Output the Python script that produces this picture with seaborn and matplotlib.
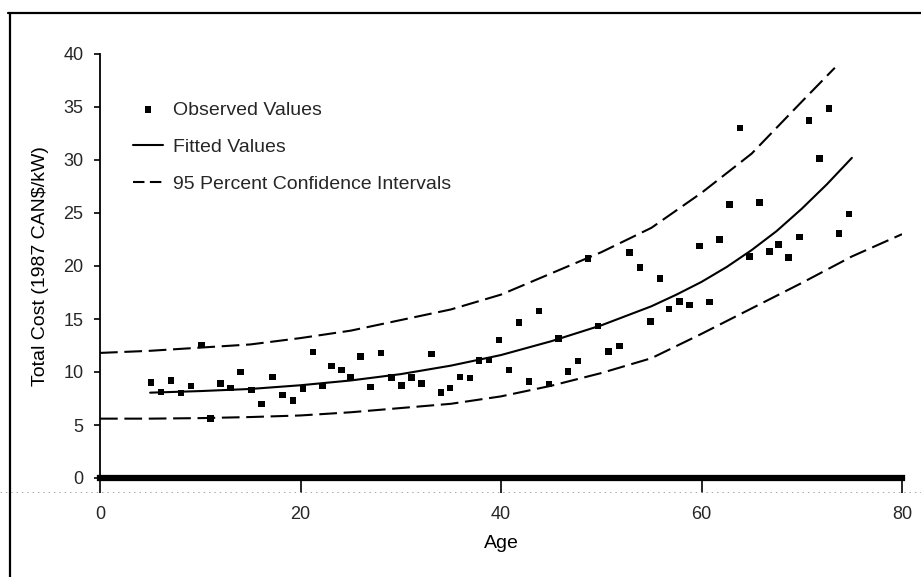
import matplotlib
matplotlib.use("Agg")
import matplotlib.pyplot as plt
from matplotlib.lines import Line2D
import seaborn as sns
import pandas as pd

# Observed total cost per plant age
obs_age = [5.1, 6.1, 7.1, 8.1, 9.1, 10.1, 11.0, 12.0, 13.0, 14.0,
           15.1, 16.1, 17.2, 18.2, 19.25, 20.25, 21.25, 22.2, 23.1, 24.1,
           25.0, 26.0, 27.0, 28.05, 29.1, 30.05, 31.05, 32.05, 33.05, 34.0,
           34.9, 35.9, 36.9, 37.8, 38.8, 39.8, 40.8, 41.8, 42.8, 43.8,
           44.8, 45.75, 46.7, 47.7, 48.7, 49.7, 50.7, 51.8, 52.8, 53.85,
           54.9, 55.85, 56.75, 57.8, 58.8, 59.8, 60.8, 61.8, 62.8, 63.85,
           64.8, 65.8, 66.8, 67.7, 68.7, 69.75, 70.7, 71.75, 72.7, 73.7,
           74.7]
obs_cost = [9.0, 8.1, 9.2, 8.0, 8.7, 12.55, 5.6, 8.9, 8.5, 10.0,
            8.3, 7.0, 9.55, 7.85, 7.3, 8.45, 11.9, 8.7, 10.55, 10.2,
            9.5, 11.45, 8.6, 11.8, 9.5, 8.75, 9.5, 8.9, 11.7, 8.05,
            8.5, 9.55, 9.45, 11.1, 11.15, 13.0, 10.2, 14.65, 9.1, 15.75,
            8.85, 13.15, 10.05, 11.05, 20.7, 14.35, 11.95, 12.45, 21.25, 19.85,
            14.75, 18.8, 15.95, 16.65, 16.3, 21.9, 16.6, 22.5, 25.8, 33.0,
            20.9, 26.0, 21.35, 22.05, 20.8, 22.75, 33.75, 30.15, 34.85, 23.05,
            24.9]

# Fitted values
fit_age = [5, 10, 15, 20, 25, 30, 35, 40, 45, 50, 55, 57.5, 60, 62.5,
           65, 67.5, 70, 72.5, 75]
fit_cost = [8.05, 8.2, 8.4, 8.75, 9.2, 9.8, 10.6, 11.6, 12.9, 14.4,
            16.2, 17.3, 18.5, 19.9, 21.5, 23.3, 25.4, 27.7, 30.2]

# 95 percent confidence bounds
upper_age = [0, 5, 10, 15, 20, 25, 30, 35, 40, 45, 50, 55, 60, 65, 70, 73.3]
upper_cost = [11.8, 12.0, 12.3, 12.6, 13.2, 13.9, 14.9, 15.9, 17.3, 19.3,
              21.3, 23.6, 26.9, 30.6, 35.5, 38.7]
lower_age = [0, 5, 10, 15, 20, 25, 30, 35, 40, 45, 50, 55, 60, 65, 70, 75, 80]
lower_cost = [5.6, 5.6, 5.65, 5.75, 5.9, 6.2, 6.6, 7.0, 7.7, 8.7,
              9.9, 11.3, 13.6, 16.0, 18.4, 20.9, 23.0]

x_ticks = [0, 20, 40, 60, 80]
y_ticks = [0, 5, 10, 15, 20, 25, 30, 35, 40]

sns.set_theme(style="white")
plt.rcParams["font.family"] = ["Liberation Sans", "DejaVu Sans"]

fig = plt.figure(figsize=(9.21, 5.77), dpi=100)
ax = fig.add_axes([100 / 921, 1 - 478 / 577, 802 / 921, 424 / 577])

obs = pd.DataFrame({"Age": obs_age, "Cost": obs_cost})
fit = pd.DataFrame({"Age": fit_age, "Cost": fit_cost})
upper = pd.DataFrame({"Age": upper_age, "Cost": upper_cost})
lower = pd.DataFrame({"Age": lower_age, "Cost": lower_cost})

dash = (0, (8.5, 3.2))
sns.scatterplot(data=obs, x="Age", y="Cost", ax=ax, marker="s", s=22,
                color="black", edgecolor="none", label="Observed Values",
                zorder=3)
sns.lineplot(data=fit, x="Age", y="Cost", ax=ax, color="black", lw=1.5,
             label="Fitted Values")
sns.lineplot(data=upper, x="Age", y="Cost", ax=ax, color="black", lw=1.5,
             linestyle=dash, label="95 Percent Confidence Intervals")
sns.lineplot(data=lower, x="Age", y="Cost", ax=ax, color="black", lw=1.5,
             linestyle=dash, label="_nolegend_")

ax.set_xlim(0, 80)
ax.set_ylim(0, 40)
ax.set_xticks(x_ticks)
ax.set_yticks(y_ticks)
ax.set_xticklabels([str(t) for t in x_ticks])
ax.set_yticklabels([str(t) for t in y_ticks])

for side in ("top", "right"):
    ax.spines[side].set_visible(False)
ax.spines["bottom"].set_linewidth(4.5)
ax.spines["bottom"].set_color("black")
ax.spines["left"].set_linewidth(1.3)
ax.spines["left"].set_color("black")

ax.tick_params(axis="x", direction="out", length=11, width=1.2,
               color="black", labelsize=13, pad=9, bottom=True)
ax.tick_params(axis="y", direction="out", length=4, width=1.2,
               color="black", labelsize=13, pad=8, left=True)

ax.set_xlabel("Age", fontsize=14, labelpad=9, color="black")
ax.set_ylabel("Total Cost (1987 CAN$/kW)", fontsize=14, labelpad=10,
              color="black")

leg = ax.legend(loc="upper left", bbox_to_anchor=(33 / 802, (478 - 101) / 424),
                frameon=False, fontsize=14, handlelength=1.55,
                handletextpad=0.5, labelspacing=1.0, borderpad=0,
                borderaxespad=0, scatterpoints=1)
# legend dash pattern shows two equal dashes
leg.legend_handles[2].set_dashes((5.5, 2.6))

# page border and faint scan line
fig.add_artist(Line2D([8 / 921, 1], [1 - 13 / 577] * 2,
                      transform=fig.transFigure, color="black", lw=1.6))
fig.add_artist(Line2D([10 / 921] * 2, [0, 1 - 13 / 577],
                      transform=fig.transFigure, color="black", lw=1.6))
fig.add_artist(Line2D([0, 1], [1 - 492 / 577] * 2,
                      transform=fig.transFigure, color="0.65", lw=0.7,
                      linestyle=(0, (1.5, 4))))

fig.savefig("out.png", dpi=100)
